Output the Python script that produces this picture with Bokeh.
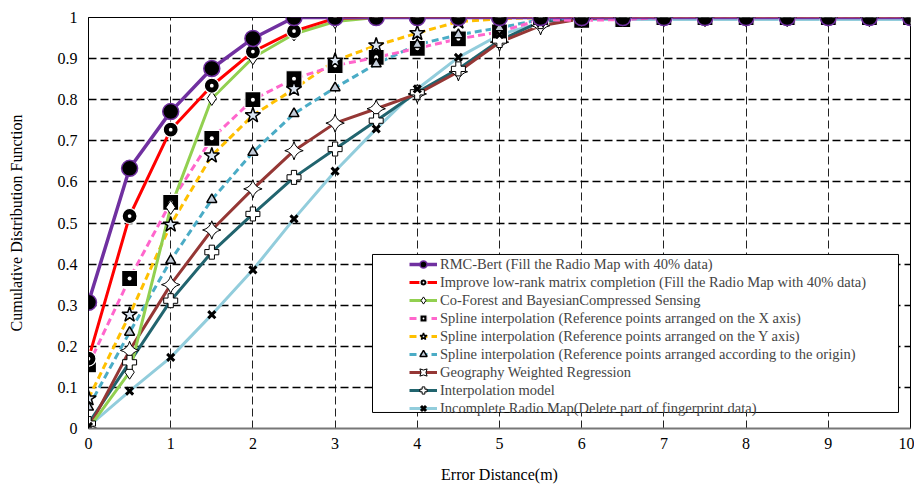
from bokeh.plotting import figure
from bokeh.models import Legend, LegendItem, FixedTicker, BoxAnnotation, Range1d
from bokeh.embed import file_html
from bokeh.resources import INLINE
import math

# ---------------- data ----------------
distance = [0, 0.5, 1, 1.5, 2, 2.5, 3, 3.5, 4, 4.5, 5, 5.5, 6, 6.5, 7, 7.5, 8, 8.5, 9, 9.5, 10]

rmc_bert = [0.307, 0.633, 0.771, 0.876, 0.949, 1.0, 1.0, 1.0, 1.0, 1.0, 1.0, 1.0, 1.0, 1.0, 1.0, 1.0, 1.0, 1.0, 1.0, 1.0, 1.0]
low_rank = [0.17, 0.517, 0.727, 0.834, 0.917, 0.967, 0.998, 1.0, 1.0, 1.0, 1.0, 1.0, 1.0, 1.0, 1.0, 1.0, 1.0, 1.0, 1.0, 1.0, 1.0]
co_forest = [0.0, 0.137, 0.538, 0.803, 0.902, 0.96, 0.99, 1.0, 1.0, 1.0, 1.0, 1.0, 1.0, 1.0, 1.0, 1.0, 1.0, 1.0, 1.0, 1.0, 1.0]
spline_x = [0.155, 0.365, 0.55, 0.706, 0.80, 0.851, 0.883, 0.903, 0.925, 0.948, 0.965, 0.995, 0.993, 0.995, 1.0, 1.0, 1.0, 1.0, 1.0, 1.0, 1.0]
spline_y = [0.073, 0.277, 0.496, 0.664, 0.762, 0.826, 0.895, 0.932, 0.962, 0.99, 0.997, 1.0, 1.0, 1.0, 1.0, 1.0, 1.0, 1.0, 1.0, 1.0, 1.0]
spline_origin = [0.052, 0.234, 0.409, 0.557, 0.672, 0.766, 0.829, 0.887, 0.934, 0.958, 0.975, 0.995, 1.0, 1.0, 1.0, 1.0, 1.0, 1.0, 1.0, 1.0, 1.0]
gwr = [0.0, 0.19, 0.35, 0.483, 0.583, 0.676, 0.743, 0.778, 0.814, 0.868, 0.94, 0.98, 0.997, 1.0, 1.0, 1.0, 1.0, 1.0, 1.0, 1.0, 1.0]
interp_model = [0.012, 0.161, 0.311, 0.429, 0.522, 0.611, 0.68, 0.749, 0.818, 0.875, 0.944, 0.99, 1.0, 1.0, 1.0, 1.0, 1.0, 1.0, 1.0, 1.0, 1.0]
incomplete = [0.005, 0.091, 0.173, 0.277, 0.386, 0.51, 0.626, 0.729, 0.826, 0.903, 0.958, 0.987, 0.995, 0.995, 0.995, 0.995, 0.995, 0.995, 0.995, 0.995, 0.995]

series_labels = [
    "RMC-Bert (Fill the Radio Map with 40% data)",
    "Improve low-rank matrix completion (Fill the Radio Map with 40% data)",
    "Co-Forest and BayesianCompressed Sensing",
    "Spline interpolation (Reference points arranged on the X axis)",
    "Spline interpolation (Reference points arranged on the Y axis)",
    "Spline interpolation (Reference points arranged according to the origin)",
    "Geography Weighted Regression",
    "Interpolation model",
    "Incomplete Radio Map(Delete part of fingerprint data)",
]
series_values = [rmc_bert, low_rank, co_forest, spline_x, spline_y, spline_origin, gwr, interp_model, incomplete]

x_ticks = [0, 1, 2, 3, 4, 5, 6, 7, 8, 9, 10]
x_tick_labels = ["0", "1", "2", "3", "4", "5", "6", "7", "8", "9", "10"]
y_ticks = [0, 0.1, 0.2, 0.3, 0.4, 0.5, 0.6, 0.7, 0.8, 0.9, 1]
y_tick_labels = ["0", "0.1", "0.2", "0.3", "0.4", "0.5", "0.6", "0.7", "0.8", "0.9", "1"]

# ---------------- styles ----------------
line_styles = [
    dict(color="#7030A0", width=3.5, dash="solid"),
    dict(color="#FF0000", width=3, dash="solid"),
    dict(color="#92D050", width=3, dash="solid"),
    dict(color="#FF66CC", width=3, dash="7 4"),
    dict(color="#FFC000", width=3, dash="7 4"),
    dict(color="#4BACC6", width=3, dash="7 4"),
    dict(color="#953735", width=3, dash="solid"),
    dict(color="#21646E", width=3, dash="solid"),
    dict(color="#92CDDC", width=3, dash="solid"),
]
marker_styles = [
    dict(marker="circle", size=16, fill_color="black", line_color="#7030A0", line_width=1.5, angle=0),
    dict(marker="circle_dot", size=15, fill_color="black", line_color="white", line_width=1.2, angle=0),
    dict(marker="diamond", size=14, fill_color="white", line_color="black", line_width=1, angle=0),
    dict(marker="square_dot", size=16, fill_color="black", line_color="white", line_width=1.2, angle=0),
    dict(marker="star", size=16, fill_color="#DCE6F2", line_color="black", line_width=1.5, angle=0),
    dict(marker="triangle", size=10, fill_color="#C3CCD8", line_color="black", line_width=1.5, angle=0),
    dict(marker="square_pin", size=13, fill_color="white", line_color="black", line_width=1, angle=math.pi / 4),
    dict(marker="plus", size=14, fill_color="white", line_color="black", line_width=1, angle=0),
    dict(marker="x", size=10, fill_color="black", line_color="black", line_width=3, angle=0),
]

FONT = "Liberation Serif"

p = figure(width=914, height=490, output_backend="svg", toolbar_location=None,
           x_range=Range1d(0, 10), y_range=Range1d(0, 1),
           min_border_left=88, min_border_right=4, min_border_top=17, min_border_bottom=62)
p.background_fill_color = "white"
p.border_fill_color = "white"
p.outline_line_color = "black"
p.outline_line_width = 1

# axes
for ax in (p.xaxis[0], p.yaxis[0]):
    ax.major_tick_in = 0
    ax.major_tick_out = 0
    ax.minor_tick_in = 0
    ax.minor_tick_out = 0
    ax.major_label_text_font = FONT
    ax.major_label_text_font_size = "16px"
    ax.major_label_text_color = "black"
    ax.axis_label_text_font = FONT
    ax.axis_label_text_font_size = "16px"
    ax.axis_label_text_font_style = "normal"
    ax.axis_label_text_color = "black"

p.xaxis.ticker = FixedTicker(ticks=x_ticks)
p.yaxis.ticker = FixedTicker(ticks=y_ticks)
p.xaxis.major_label_overrides = dict(zip(x_ticks, x_tick_labels))
p.yaxis.major_label_overrides = dict(zip(y_ticks, y_tick_labels))
p.xaxis.axis_label = "Error Distance(m)"
p.yaxis.axis_label = "Cumulative Distribution Function"
p.xaxis.axis_line_color = "#777777"
p.xaxis.axis_line_width = 2
p.yaxis.axis_line_color = "black"
p.yaxis.axis_line_width = 1
p.xaxis.major_label_standoff = 9
p.yaxis.major_label_standoff = 11
p.xaxis.axis_label_standoff = 14
p.yaxis.axis_label_standoff = 30

# grid
p.xgrid.grid_line_color = "#222222"
p.xgrid.grid_line_width = 1
p.xgrid.grid_line_dash = "8 4"
p.ygrid.grid_line_color = "black"
p.ygrid.grid_line_width = 1.4
p.ygrid.grid_line_dash = "8 4"

# lines (purple drawn last, on top)
line_renderers = [None] * 9
for i in [8, 7, 6, 5, 4, 3, 2, 1, 0]:
    ls = line_styles[i]
    line_renderers[i] = p.line(distance, series_values[i], line_color=ls["color"],
                               line_width=ls["width"], line_dash=ls["dash"])

marker_renderers = [None] * 9
for i in [3, 4, 5, 2, 1, 6, 7, 8, 0]:
    ms = marker_styles[i]
    marker_renderers[i] = p.scatter(distance, series_values[i], marker=ms["marker"], size=ms["size"],
                                    fill_color=ms["fill_color"], line_color=ms["line_color"],
                                    line_width=ms["line_width"], angle=ms["angle"])

# legend frame
legend_box = BoxAnnotation(left=3.455, right=9.854, bottom=0.039, top=0.4234,
                           fill_color="white", fill_alpha=1.0,
                           line_color="black", line_width=1, line_alpha=1.0)
p.add_layout(legend_box)

items = [LegendItem(label=series_labels[i], renderers=[line_renderers[i], marker_renderers[i]])
         for i in range(9)]
legend = Legend(items=items, location=(321, 11),
                label_text_font=FONT, label_text_font_size="14.5px",
                glyph_width=28, glyph_height=18, label_height=18, spacing=0,
                label_standoff=3, padding=0, margin=0,
                border_line_alpha=0, background_fill_alpha=0)
p.add_layout(legend)

open("out.html", "w").write(file_html(p, INLINE))
